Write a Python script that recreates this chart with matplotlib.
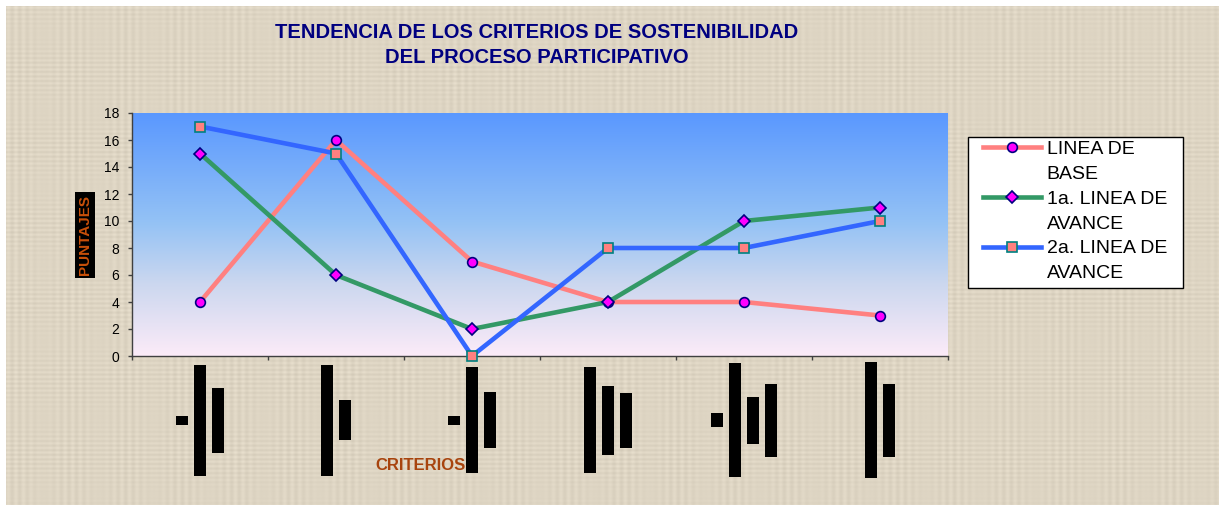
import numpy as np
import matplotlib.pyplot as plt
from matplotlib.patches import Rectangle
from matplotlib.lines import Line2D
from matplotlib.colors import LinearSegmentedColormap

criterios = [1, 2, 3, 4, 5, 6]
linea_base = [4, 16, 7, 4, 4, 3]
avance_1 = [15, 6, 2, 4, 10, 11]
avance_2 = [17, 15, 0, 8, 8, 10]
y_ticks = list(range(0, 19, 2))
# category labels come out as solid black blocks, one per text line (length in px)
bloques = [[9, 111, 65], [111, 40], [9, 106, 56], [106, 69, 55],
           [14, 114, 47, 73], [116, 73]]

plt.rcParams['font.family'] = ['Liberation Sans', 'DejaVu Sans']

W, H = 1223, 507
fig = plt.figure(figsize=(W / 100, H / 100), dpi=100, facecolor='white')

# linen-like background
yy = np.arange(499)[:, None]
xx = np.arange(1213)[None, :]
tex = (0.5 * np.sin(xx * 0.83) * np.sin(xx * 0.057 + 1.0)
       + 0.5 * np.sin(yy * 1.37) * np.sin(yy * 0.041 + 2.0))
base = np.array([0.87, 0.835, 0.765])
img = np.clip(base + 0.04 * tex[..., None], 0, 1)
fig.figimage(img, xo=6, yo=2, zorder=-5)

ax = fig.add_axes([132 / W, 151 / H, 816 / W, 243 / H])
ax.patch.set_visible(False)
x = np.arange(len(criterios))

grad = np.linspace(0, 1, 256).reshape(-1, 1)
cmap = LinearSegmentedColormap.from_list(
    'fondo', [(0, '#FCEBF8'), (0.3, '#CBD7EF'), (0.55, '#94C2F5'), (1, '#5A98FF')])
ax.imshow(grad, cmap=cmap, aspect='auto', extent=(-0.5, 5.5, 0, 18),
          origin='lower', zorder=0)

l1, = ax.plot(x, linea_base, color='#FF8080', lw=3.3, marker='o', ms=7,
              mfc='#FF00FF', mec='#000080', mew=1.2, zorder=3, clip_on=False)
l2, = ax.plot(x, avance_1, color='#339966', lw=3.3, marker='D', ms=6.5,
              mfc='#FF00FF', mec='#000080', mew=1.2, zorder=4, clip_on=False)
l3, = ax.plot(x, avance_2, color='#3366FF', lw=3.3, marker='s', ms=7,
              mfc='#FF8080', mec='#008080', mew=1.2, zorder=5, clip_on=False)

ax.set_xlim(-0.5, 5.5)
ax.set_ylim(0, 18)
ax.set_yticks(y_ticks)
ax.set_xticks(np.arange(-0.5, 6, 1))
ax.set_xticklabels([])
ax.tick_params(axis='both', direction='out', length=3, width=1, color='#404040',
               labelsize=10, pad=6)
for s in ['top', 'right']:
    ax.spines[s].set_visible(False)
for s in ['left', 'bottom']:
    ax.spines[s].set_color('#404040')
    ax.spines[s].set_linewidth(1)

# black blocks below each category
for i, lens in enumerate(bloques):
    cx = ax.transData.transform((x[i], 0))[0]
    n = len(lens)
    for j, L in enumerate(lens):
        bx = cx + (j - (n - 1) / 2) * 18 - 6
        fig.add_artist(Rectangle((bx / W, (87 - L / 2) / H), 12 / W, L / H,
                                 transform=fig.transFigure, facecolor='black',
                                 edgecolor='none', zorder=2))

fig.text(536.5 / W, 1 - 45 / H,
         'TENDENCIA DE LOS CRITERIOS DE SOSTENIBILIDAD\nDEL PROCESO PARTICIPATIVO',
         ha='center', va='center', fontsize=14.5, fontweight='bold', color='#000080',
         linespacing=1.45)

fig.text(85 / W, 1 - 235 / H, 'PUNTAJES', rotation=90, ha='center', va='center',
         fontsize=11, fontweight='bold', color='#C8500A',
         bbox=dict(facecolor='black', edgecolor='none', pad=2))

fig.text(420 / W, 1 - 466 / H, 'CRITERIOS', ha='center', va='center',
         fontsize=12, fontweight='bold', color='#A8440E', zorder=3)

# legend box
fig.add_artist(Rectangle((968 / W, 1 - 288 / H), 215 / W, 151 / H,
                         transform=fig.transFigure, facecolor='white',
                         edgecolor='black', linewidth=1.0, zorder=8))
blank = Line2D([], [], color='none')
leg = fig.legend([l1, blank, l2, blank, l3, blank],
                 ['LINEA DE', 'BASE', '1a. LINEA DE', 'AVANCE', '2a. LINEA DE', 'AVANCE'],
                 loc='upper left', bbox_to_anchor=(983 / W, 1 - 140.5 / H),
                 borderaxespad=0, borderpad=0, fontsize=14, frameon=False,
                 handlelength=3.0, handletextpad=0.28, labelspacing=0.37)
leg.set_zorder(9)

fig.savefig('out.png', dpi=100)
